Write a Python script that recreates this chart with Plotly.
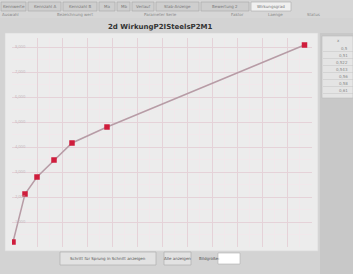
import plotly.graph_objects as go

# ---- data (arbitrary units) ----
x_vals = [0.04, 0.52, 1.0, 1.68, 2.4, 3.8, 11.7]
y_vals = [0.2, 2.12, 2.8, 3.48, 4.16, 4.8, 8.08]
y_tick_vals = [1, 2, 3, 4, 5, 6, 7, 8]
y_tick_text = ["1,000", "2,000", "3,000", "4,000", "5,000", "6,000", "7,000", "8,000"]
tab_labels = ["Kennwerte", "Kennzahl A", "Kennzahl B", "Ma", "Mb", "Verlauf", "Stab-Anzeige", "Bewertung 2", "Wirkungsgrad"]
side_values = ["0,5", "0,51", "0,522", "0,543", "0,56", "0,58", "0,61"]
title_text = "2d WirkungP2ISteelsP2M1"

W, H = 353, 274
L, R, T, B = 12, 41, 38, 27
PW, PH = W - L - R, H - T - B

def px(x):
    return (x - L) / PW

def py(y):
    return 1 - (y - T) / PH

fig = go.Figure()
fig.add_trace(go.Scatter(
    x=x_vals, y=y_vals, mode="lines+markers",
    line=dict(color="#b79ca6", width=1.5),
    marker=dict(symbol="square", size=5.5, color="#cf1d3c", line=dict(width=0)),
    hoverinfo="skip", showlegend=False,
))

shapes = []
annotations = []

def rect(x0, y0, x1, y1, fill, line="rgba(0,0,0,0)", lw=0, layer="below"):
    shapes.append(dict(type="rect", xref="paper", yref="paper",
                       x0=px(x0), x1=px(x1), y0=py(y1), y1=py(y0),
                       fillcolor=fill, line=dict(color=line, width=lw), layer=layer))

def text(x, y, s, size=4, color="#666", anchor="left", bold=False):
    annotations.append(dict(xref="paper", yref="paper", x=px(x), y=py(y), text=("<b>%s</b>" % s) if bold else s,
                            showarrow=False, xanchor=anchor, yanchor="middle",
                            font=dict(size=size, color=color, family="DejaVu Sans")))

# tab bar
rect(0, 0, 353, 18, "#d6d6d6")
tab_x = [0, 27, 62, 98, 116, 131, 155, 200, 250, 292]
for i, lab in enumerate(tab_labels):
    x0, x1 = tab_x[i] + 1, tab_x[i + 1] - 1
    sel = (i == len(tab_labels) - 1)
    rect(x0, 2, x1, 11, "#f0f0f0" if sel else "#cecece", "#a8a8a8", 0.6)
    text((x0 + x1) / 2, 6.5, lab, size=4, color="#777", anchor="center")
for xx, lab in [(10, "Auswahl"), (75, "Bezeichnung wert"), (160, "Parameter Serie"), (237, "Faktor"), (275, "Laenge"), (313, "Status")]:
    text(xx, 15, lab, size=4, color="#888", anchor="center")

# title
text(160, 27, title_text, size=7, color="#333", anchor="center", bold=True)

# chart panel
rect(5, 33, 318, 251, "#ececec", "#d8d8d8", 0.6)

# side panel
rect(320, 33, 353, 274, "#c8c8c8")
rect(322, 36, 353, 98, "#e4e4e4", "#bdbdbd", 0.6)
for k, v in enumerate(side_values):
    yy = 48 + k * 7
    shapes.append(dict(type="line", xref="paper", yref="paper", x0=px(323), x1=px(353),
                       y0=py(yy + 3.5), y1=py(yy + 3.5), line=dict(color="#c4c4c4", width=0.5)))
    text(350, yy, v, size=4, color="#888", anchor="right")
text(338, 40, "x", size=4, color="#888", anchor="center")

# bottom buttons
rect(60, 252, 156, 265, "#e2e2e2", "#a8a8a8", 0.6)
text(108, 258.5, "Schritt für Sprung in Schnitt anzeigen", size=4, color="#555", anchor="center")
rect(164, 252, 191, 265, "#e2e2e2", "#a8a8a8", 0.6)
text(177.5, 258.5, "Alle anzeigen", size=4, color="#555", anchor="center")
text(197, 258.5, "Bildgröße:", size=4, color="#555", anchor="left")
rect(218, 253, 240, 264, "#ffffff", "#b0b0b0", 0.6)

fig.update_layout(
    width=W, height=H,
    margin=dict(l=L, r=R, t=T, b=B),
    paper_bgcolor="#d3d3d3",
    plot_bgcolor="#f7f3f4",
    shapes=shapes, annotations=annotations,
    xaxis=dict(range=[0, 12], dtick=1, showgrid=True, gridcolor="#e5d2d8", gridwidth=0.8,
               zeroline=False, showticklabels=False, showline=False,
               minor=dict(dtick=0.5, showgrid=True, gridcolor="#f1e8eb", gridwidth=0.5)),
    yaxis=dict(range=[0, 8.36], tickvals=y_tick_vals, ticktext=y_tick_text, showgrid=True,
               gridcolor="#e5d2d8", gridwidth=0.8, zeroline=False, showline=False,
               ticklabelposition="inside", tickfont=dict(size=4, color="#c2b6ba"),
               minor=dict(dtick=0.5, showgrid=True, gridcolor="#f1e8eb", gridwidth=0.5)),
)
fig.write_html("out.html", config={"displayModeBar": False},
               post_script="document.body.style.margin='0';document.body.style.overflow='hidden';")
